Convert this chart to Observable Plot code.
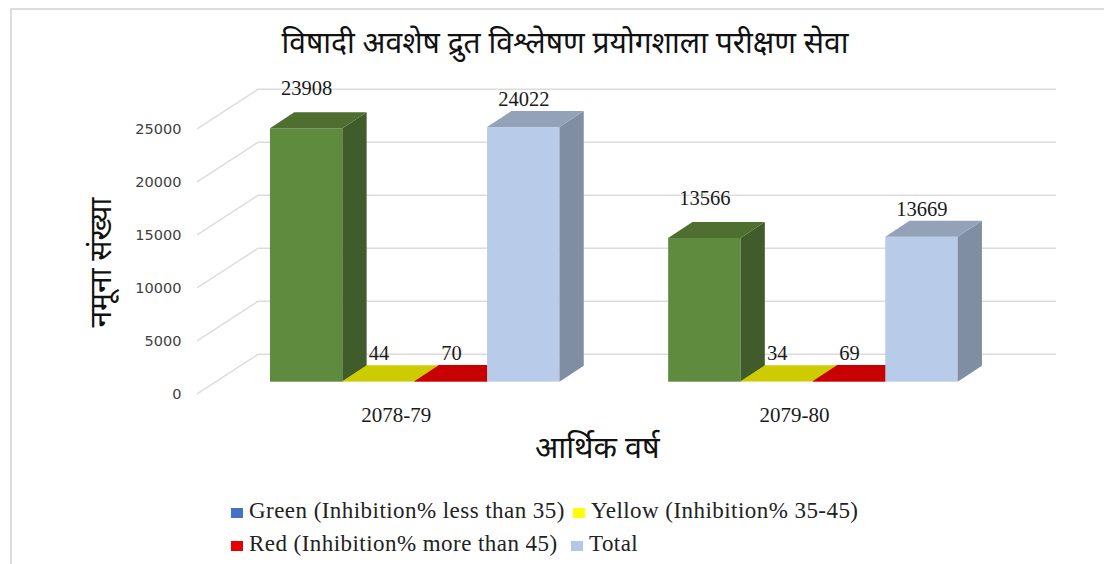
<!DOCTYPE html>
<html lang="ne">
<head>
<meta charset="utf-8">
<script src="https://cdn.jsdelivr.net/npm/d3@7"></script>
<script src="https://cdn.jsdelivr.net/npm/@observablehq/plot@0.6"></script>
<style>
  html, body { margin: 0; padding: 0; background: #fff; width: 1104px; height: 564px; overflow: hidden; }
  #frame { position: absolute; left: 10px; top: 8px; width: 1094px; height: 556px; border-left: 2px solid #dcdcdc; border-top: 2px solid #dcdcdc; box-sizing: border-box; }
  #title { position: absolute; left: 0; width: 1130px; top: 20px; text-align: center; font: 400 30px "Noto Sans", sans-serif; line-height: 44px; color: #111; white-space: nowrap; }
  #chart { position: absolute; left: 0; top: 60px; }
  #chart svg { overflow: visible; }
  .legend-item { position: absolute; font: 23px "Liberation Serif", serif; letter-spacing: 0.45px; color: #222; white-space: nowrap; line-height: 24px; }
  .legend-item i { display: inline-block; width: 12px; height: 10px; margin-right: 6px; }
</style>
</head>
<body>
<div id="frame"></div>
<div id="title"></div>
<div id="chart"></div>
<div id="legend"></div>
<script>
const titleText = "विषादी अवशेष द्रुत विश्लेषण प्रयोगशाला परीक्षण सेवा";
const yTitle = "नमूना संख्या";
const xTitle = "आर्थिक वर्ष";
const years = ["2078-79", "2079-80"];
const seriesNames = ["Green", "Yellow", "Red", "Total"];
const greenValues = [23908, 13566];
const yellowValues = [44, 34];
const redValues = [70, 69];
const totalValues = [24022, 13669];
const yTicks = [0, 5000, 10000, 15000, 20000, 25000];
const frontColors = ["#5f8b3f", "#cccc00", "#c80000", "#b8cbe8"];
const topColors = ["#4f6f30", "#cccc00", "#c80000", "#93a1b9"];
const sideColors = ["#405c2a", "#a3a300", "#a00000", "#808ea3"];
const legendLabels = ["Green (Inhibition% less than 35)", "Yellow (Inhibition% 35-45)", "Red (Inhibition% more than 45)", "Total"];
const legendColors = ["#4472c4", "#ffff00", "#e60000", "#b4c7e7"];
const legendPlaces = [[231, 499], [573, 499], [231, 532], [571, 532]];

// 3D projection offsets, in pixels
const barDepth = {x: 24.3, y: -16};
const wallDepth = {x: 42.5, y: -28};
const floorFront = {x: -18.5, y: 11.7};
// each year occupies one unit of x; bars fill this share of it
const barSpan = 0.727 / seriesNames.length;

const seriesValues = [greenValues, yellowValues, redValues, totalValues];
const rows = years.flatMap((year, i) => seriesNames.map((series, s) => ({
  year, series, s, value: seriesValues[s][i],
  left: i + (s - seriesNames.length / 2) * barSpan,
  mid: i + (s + 0.5 - seriesNames.length / 2) * barSpan,
  right: i + (s + 1 - seriesNames.length / 2) * barSpan
})));

document.getElementById("title").textContent = titleText;

const svgNS = "http://www.w3.org/2000/svg";

function extrude(index, scales, values, dimensions, context, next) {
  const g = next(index, scales, values, dimensions, context);
  const rects = Array.from(g.querySelectorAll("rect"));
  rects.forEach((rect, k) => {
    const s = rows[index[k]].s;
    const x = +rect.getAttribute("x"), y = +rect.getAttribute("y");
    const w = +rect.getAttribute("width"), h = +rect.getAttribute("height");
    const {x: dx, y: dy} = barDepth;
    const side = [[x + w, y], [x + w + dx, y + dy], [x + w + dx, y + h + dy], [x + w, y + h]];
    const top = [[x, y], [x + dx, y + dy], [x + w + dx, y + dy], [x + w, y]];
    const after = rect.nextSibling;
    for (const [pts, fill] of [[side, sideColors[s]], [top, topColors[s]]]) {
      const p = document.createElementNS(svgNS, "polygon");
      p.setAttribute("points", pts.map(d => d.join(",")).join(" "));
      p.setAttribute("fill", fill);
      g.insertBefore(p, after);
    }
  });
  return g;
}

function walls(index, scales, values, dimensions, context, next) {
  const g = next(index, scales, values, dimensions, context);
  const lines = Array.from(g.querySelectorAll("line"));
  for (const line of lines) {
    const x1 = +line.getAttribute("x1"), x2 = +line.getAttribute("x2"), y = +line.getAttribute("y1");
    line.setAttribute("x1", x1 + wallDepth.x);
    line.setAttribute("x2", x2 + wallDepth.x + 1.5);
    line.setAttribute("y1", y + wallDepth.y);
    line.setAttribute("y2", y + wallDepth.y);
    const diag = document.createElementNS(svgNS, "line");
    diag.setAttribute("x1", x1 + floorFront.x);
    diag.setAttribute("y1", y + floorFront.y);
    diag.setAttribute("x2", x1 + wallDepth.x);
    diag.setAttribute("y2", y + wallDepth.y);
    g.appendChild(diag);
  }
  return g;
}

const labelFont = {fontFamily: "Liberation Serif", fontSize: 20.5, fill: "#1a1a1a"};

const chart = Plot.plot({
  width: 1104,
  height: 415,
  marginLeft: 215.6,
  marginRight: 92,
  marginTop: 56.7,
  marginBottom: 93.3,
  style: {background: "transparent"},
  x: {domain: [-0.5, 1.5], axis: null},
  y: {domain: [0, 25000], axis: null},
  color: {domain: seriesNames, range: frontColors},
  marks: [
    Plot.ruleY(yTicks, {y: d => d, stroke: "#dcdcdc", strokeWidth: 1.4, render: walls}),
    Plot.axisY({ticks: yTicks, tickSize: 0, tickFormat: d => String(d), label: null, fontFamily: "DejaVu Sans", fontSize: 14.5, fill: "#404040", tickPadding: 0, dx: -34.6, dy: 11.7}),
    Plot.axisX({ticks: [0, 1], tickFormat: i => years[i], anchor: "bottom", tickSize: 0, label: null, fontFamily: "Liberation Serif", fontSize: 21, fill: "#1a1a1a", tickPadding: 0, dx: -19, dy: 25}),
    Plot.rect(rows, {x1: "left", x2: "right", y1: 0, y2: "value", fill: "series", render: extrude}),
    Plot.text(rows.filter(d => d.series === "Green"), {x: "mid", y: "value", text: d => String(d.value), dy: -40, ...labelFont}),
    Plot.text(rows.filter(d => d.series !== "Green"), {x: "mid", y: "value", text: d => String(d.value), dy: -28, ...labelFont}),
    Plot.text([yTitle], {frameAnchor: "left", textAnchor: "middle", rotate: -90, dx: -115, dy: 13, fontFamily: "Noto Sans", fontSize: 30, fill: "#111"}),
    Plot.text([xTitle], {frameAnchor: "bottom", dx: -17, dy: 76, fontFamily: "Noto Sans", fontSize: 30.5, fill: "#111"})
  ]
});
document.getElementById("chart").appendChild(chart);

const legend = document.getElementById("legend");
legendLabels.forEach((label, i) => {
  const item = document.createElement("div");
  item.className = "legend-item";
  item.style.left = legendPlaces[i][0] + "px";
  item.style.top = legendPlaces[i][1] + "px";
  const sw = document.createElement("i");
  sw.style.background = legendColors[i];
  item.appendChild(sw);
  item.appendChild(document.createTextNode(label));
  legend.appendChild(item);
});
</script>
</body>
</html>
